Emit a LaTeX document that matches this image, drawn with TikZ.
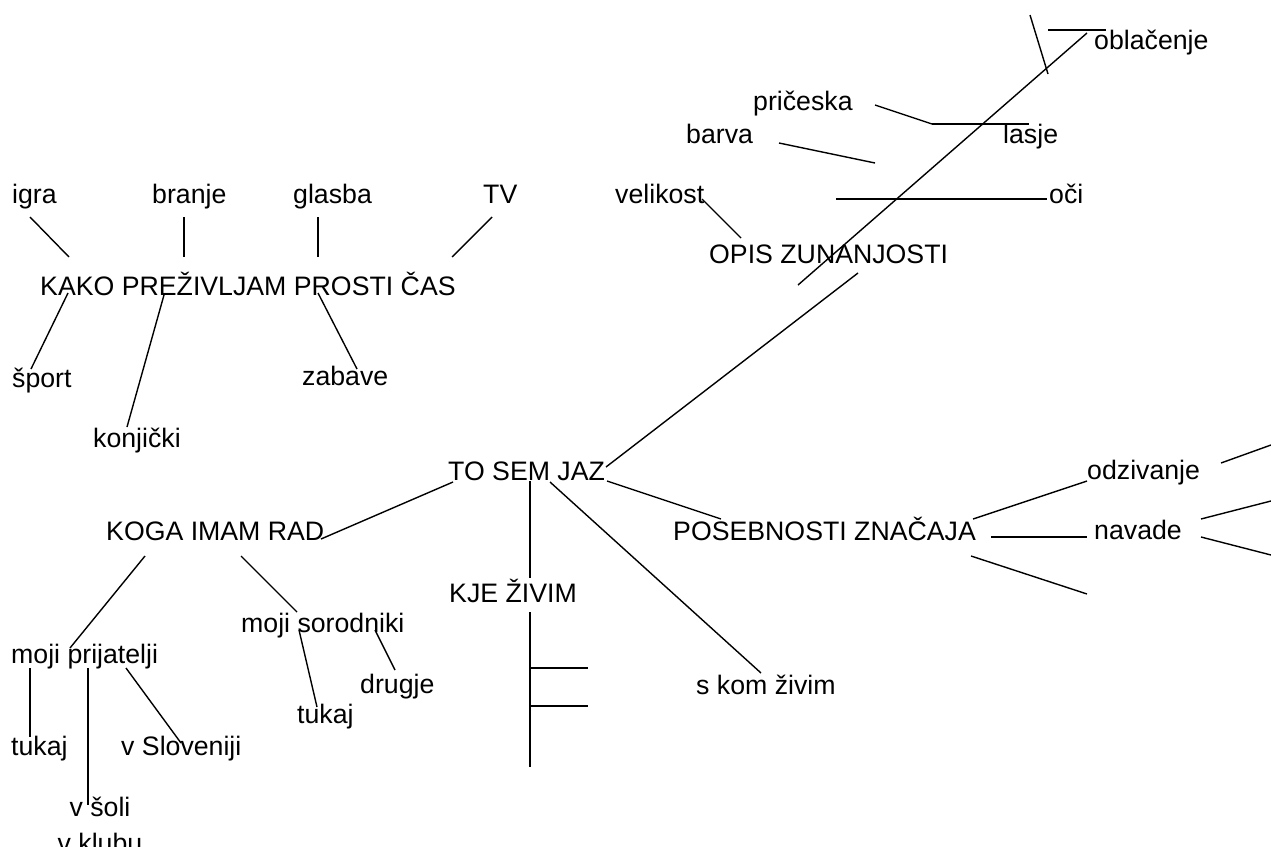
\documentclass[tikz,border=0pt]{standalone}
\usepackage{fontspec}
\setmainfont{Liberation Sans}
\usepackage{tikz}

\begin{document}
\begin{tikzpicture}[x=1pt,y=-1pt,
    word/.style={anchor=base west, inner sep=0pt, font=\fontsize{26.7pt}{32pt}\selectfont},
    twig/.style={black, line width=1.4pt}]
       \clip (0,0) rectangle (1271,846);

       % prosti cas
       \node[word] (igra) at (12,203) {igra};
       \node[word] (branje) at (152,203) {branje};
       \node[word] (glasba) at (293,203) {glasba};
       \node[word] (tv) at (483,203) {TV};
       \node[word] (prosticas) at (40,295) {KAKO PREŽIVLJAM PROSTI ČAS};
       \node[word] (sport) at (12,387) {šport};
       \node[word] (konjicki) at (93,447) {konjički};
       \node[word] (zabave) at (302,385) {zabave};

       \draw[twig] (30,217) -- (69,257);
       \draw[twig] (184,217) -- (184,257);
       \draw[twig] (318,217) -- (318,257);
       \draw[twig] (492,217) -- (452,257);
       \draw[twig] (68,293) -- (31,369);
       \draw[twig] (164,295) -- (127,427);
       \draw[twig] (318,293) -- (357,369);

       % zunanjost
       \node[word] (oblacenje) at (1094,49) {oblačenje};
       \node[word] (priceska) at (753,110) {pričeska};
       \node[word] (barva) at (686,143) {barva};
       \node[word] (lasje) at (1003,143) {lasje};
       \node[word] (velikost) at (615,203) {velikost};
       \node[word] (oci) at (1049,203) {oči};
       \node[word] (zunanjost) at (709,263) {OPIS ZUNANJOSTI};

       \draw[twig] (798,285) -- (1087,33);
       \draw[twig] (1030,15) -- (1048,74);
       \draw[twig] (1048,30) -- (1106,30);
       \draw[twig] (875,105) -- (932,124);
       \draw[twig] (932,124) -- (1029,124);
       \draw[twig] (779,143) -- (875,163);
       \draw[twig] (836,199) -- (1047,199);
       \draw[twig] (702,199) -- (741,238);

       % sredina
       \node[word] (jaz) at (448,480) {TO SEM JAZ};
       \node[word] (rad) at (106,540) {KOGA IMAM RAD};
       \node[word] (znacaj) at (673,540) {POSEBNOSTI ZNAČAJA};
       \node[word] (kjezivim) at (449,602) {KJE ŽIVIM};
       \node[word] (skom) at (696,694) {s kom živim};

       \draw[twig] (606,467) -- (858,273);
       \draw[twig] (453,482) -- (321,539);
       \draw[twig] (607,481) -- (721,519);
       \draw[twig] (530,481) -- (530,578);
       \draw[twig] (550,482) -- (761,673);
       \draw[twig] (530,612) -- (530,767);
       \draw[twig] (530,668) -- (588,668);
       \draw[twig] (530,706) -- (588,706);

       % znacaj
       \node[word] (odzivanje) at (1087,479) {odzivanje};
       \node[word] (navade) at (1094,539) {navade};

       \draw[twig] (973,519) -- (1087,481);
       \draw[twig] (991,537) -- (1087,537);
       \draw[twig] (971,556) -- (1087,594);
       \draw[twig] (1221,463) -- (1271,445);
       \draw[twig] (1201,519) -- (1271,501);
       \draw[twig] (1201,537) -- (1271,555);

       % koga imam rad
       \node[word] (sorodniki) at (241,632) {moji sorodniki};
       \node[word] (drugje) at (360,693) {drugje};
       \node[word] (tukajB) at (297,723) {tukaj};
       \node[word] (prijatelji) at (11,663) {moji prijatelji};
       \node[word] (tukajA) at (11,755) {tukaj};
       \node[word] (slovenija) at (121,755) {v Sloveniji};
       \node[word, anchor=base] (soli) at (100,816) {v šoli};
       \node[word, anchor=base] (klub) at (100,852) {v klubu};

       \draw[twig] (145,556) -- (70,648);
       \draw[twig] (241,556) -- (297,612);
       \draw[twig] (299,630) -- (317,707);
       \draw[twig] (375,630) -- (395,670);
       \draw[twig] (30,668) -- (30,737);
       \draw[twig] (88,668) -- (88,805);
       \draw[twig] (126,668) -- (181,743);
      \end{tikzpicture}
\end{document}
